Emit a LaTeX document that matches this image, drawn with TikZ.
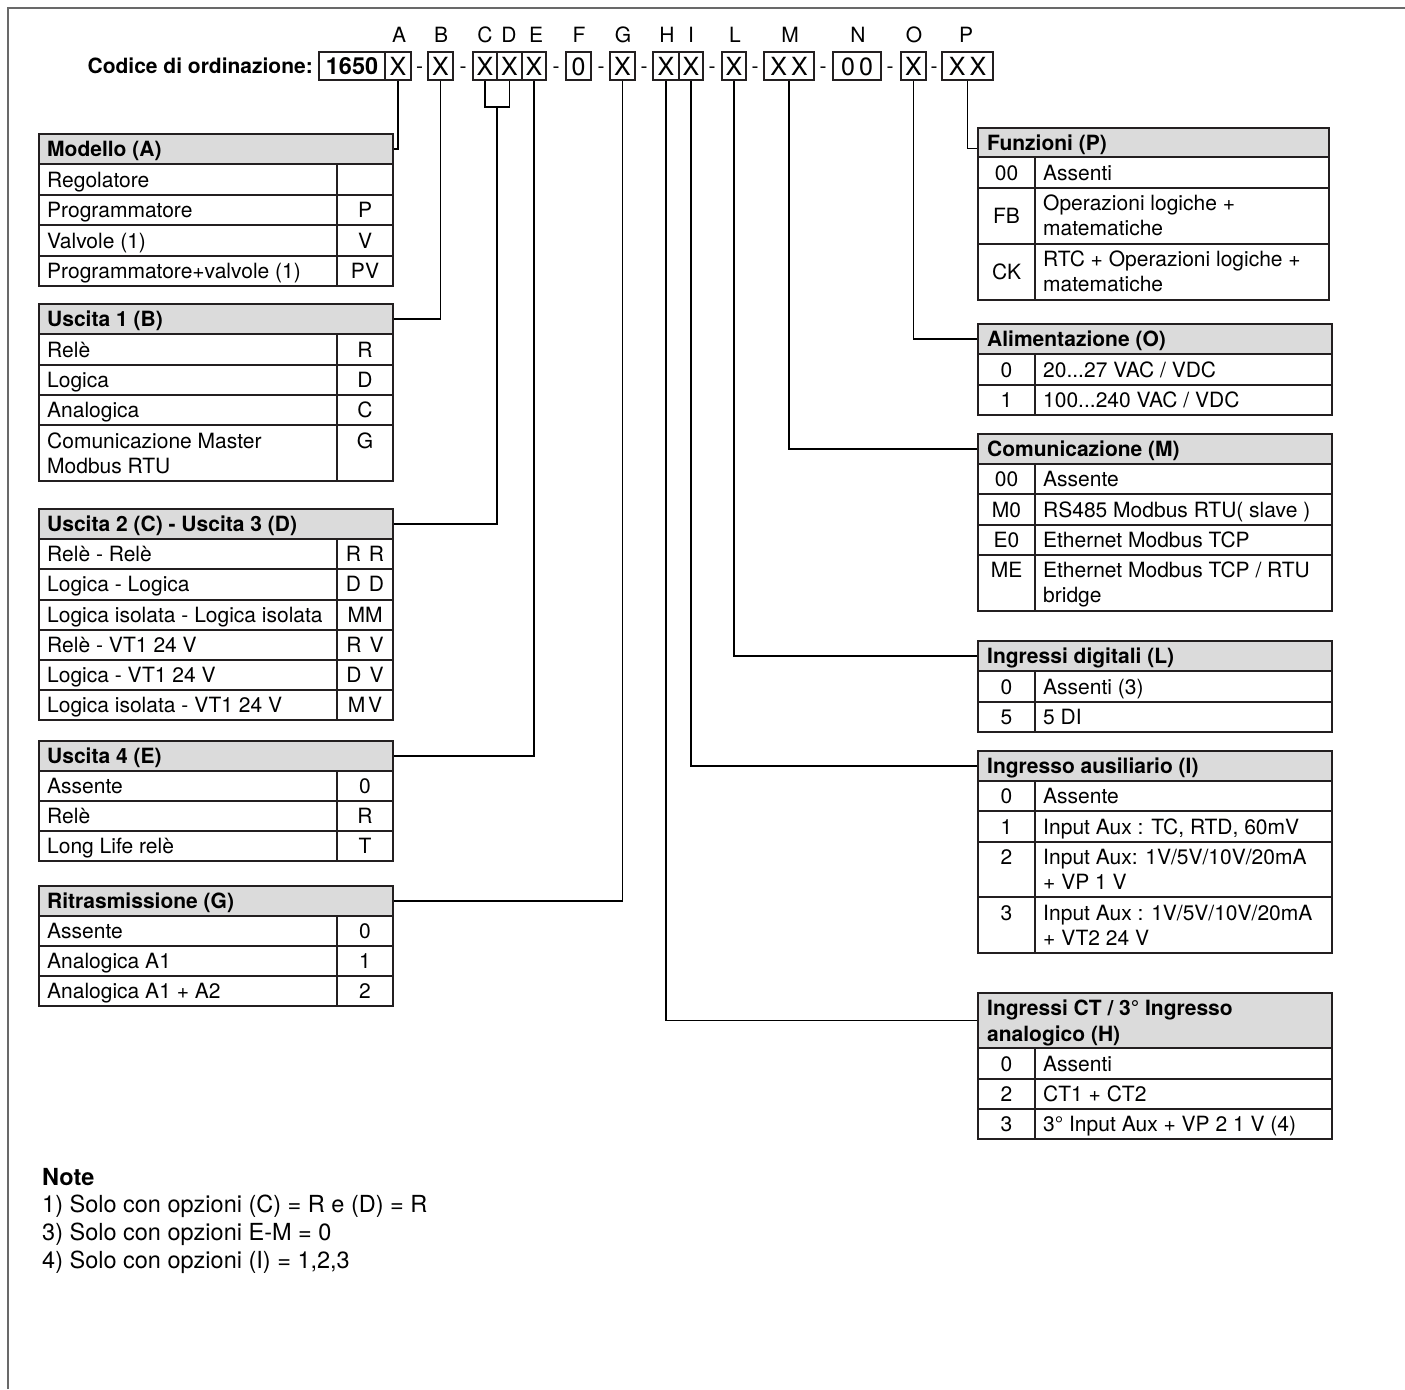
\documentclass[tikz,border=0pt]{standalone}
\usepackage{fontspec}
\setmainfont{TeX Gyre Heros}
\usetikzlibrary{fit}
\definecolor{hdrgray}{RGB}{219,219,219}
\definecolor{linec}{RGB}{35,31,32}
\definecolor{framec}{RGB}{105,105,105}
\newcommand\fbody{\fontsize{21}{25}\selectfont}
\newcommand\fnote{\fontsize{23.5}{28}\selectfont}
\newcommand\flet{\fontsize{21}{25}\selectfont}
\newcommand\fcode{\fontsize{25}{29}\selectfont}
% left-table row: name, baseline y, text, code
\newcommand\lrow[4]{\node[txt] (#1t) at (47,#2) {#3};\node[ctxt] (#1c) at (365,#2) {#4};}
% right-table row: name, baseline y, code, text
\newcommand\rrow[4]{\node[ctxt] (#1c) at (1006.5,#2) {#3};\node[txt] (#1t) at (1043,#2) {#4};}
% table body: x1, xdiv, x2, ytop, ybottom, inner lines
\newcommand\tbody[6]{\draw[cellline] (#1,#4) rectangle (#3,#5);\draw[cellline] (#2,#4) -- (#2,#5);\foreach \yy in {#6}{\draw[cellline] (#1,\yy) -- (#3,\yy);}}
\begin{document}
\begin{tikzpicture}[x=1pt,y=-1pt,
  hdrbox/.style={draw=linec, fill=hdrgray, line width=1.2pt, inner sep=0pt},
  cellline/.style={draw=linec, line width=1.2pt},
  txt/.style={anchor=base west, inner sep=0pt, font=\fbody},
  htxt/.style={anchor=base west, inner sep=0pt, font=\fbody\bfseries},
  ctxt/.style={anchor=base, inner sep=0pt, font=\fbody},
  letter/.style={anchor=base, inner sep=0pt, font=\flet},
  dashtxt/.style={anchor=base, inner sep=0pt, font=\fbody},
  codebox/.style={draw=linec, line width=1.2pt, inner sep=0pt, minimum height=28pt, font=\fcode, text height=18pt, text depth=0pt},
  conn/.style={draw=black, line width=1.2pt},
  frame/.style={draw=framec, line width=1.4pt},
  notetxt/.style={anchor=base west, inner sep=0pt, font=\fnote}
]
\useasboundingbox (0,0) rectangle (1405,1389);
\draw[frame] (8,1389) -- (8,8) -- (1405,8);

% ---------- letters ----------
\node[letter] (lA) at (399,43) {A};
\node[letter] (lB) at (441,43) {B};
\node[letter] (lC) at (485,43) {C};
\node[letter] (lD) at (509,43) {D};
\node[letter] (lE) at (536,43) {E};
\node[letter] (lF) at (579,43) {F};
\node[letter] (lG) at (623,43) {G};
\node[letter] (lH) at (667,43) {H};
\node[letter] (lI) at (691,43) {I};
\node[letter] (lL) at (735,43) {L};
\node[letter] (lM) at (790,43) {M};
\node[letter] (lN) at (858,43) {N};
\node[letter] (lO) at (914,43) {O};
\node[letter] (lP) at (966,43) {P};

% ---------- code ----------
\node[anchor=base east, inner sep=0pt, font=\fbody\bfseries] (title) at (313,74) {Codice di ordinazione:};
\node[codebox, minimum width=66pt, font=\fontsize{23.5}{28}\selectfont\bfseries, text height=17pt] (b1650) at (352,66) {1650};
\node[codebox, minimum width=26pt] (bA) at (398,66) {X};
\node[dashtxt] (d1) at (419.5,74) {-};
\node[codebox, minimum width=25pt] (bB) at (440.5,66) {X};
\node[dashtxt] (d2) at (463,74) {-};
\node[codebox, minimum width=24pt] (bC) at (485,66) {X};
\node[codebox, minimum width=25pt] (bD) at (509.5,66) {X};
\node[codebox, minimum width=24pt] (bE) at (534,66) {X};
\node[dashtxt] (d3) at (556,74) {-};
\node[codebox, minimum width=25pt] (bF) at (578.5,66) {0};
\node[dashtxt] (d4) at (601,74) {-};
\node[codebox, minimum width=25pt] (bG) at (622.5,66) {X};
\node[dashtxt] (d5) at (644,74) {-};
\node[codebox, minimum width=26pt] (bH) at (666,66) {X};
\node[codebox, minimum width=24pt] (bI) at (691,66) {X};
\node[dashtxt] (d6) at (712,74) {-};
\node[codebox, minimum width=24pt] (bL) at (734,66) {X};
\node[dashtxt] (d7) at (755,74) {-};
\node[codebox, minimum width=50pt] (bM) at (789,66) {X\kern4pt X};
\node[dashtxt] (d8) at (823,74) {-};
\node[codebox, minimum width=48pt] (bN) at (857,66) {0\kern4pt 0};
\node[dashtxt] (d9) at (890,74) {-};
\node[codebox, minimum width=25pt] (bO) at (913.5,66) {X};
\node[dashtxt] (d10) at (934,74) {-};
\node[codebox, minimum width=51pt] (bP) at (967.5,66) {X\kern4pt X};

% ---------- left tables ----------
% Modello (A)
\node[hdrbox, fit={(39,134) (393,164)}] (hA) {};
\node[htxt] (thA) at (47,156) {Modello (A)};
\tbody{39}{337}{393}{164}{286}{195,225,256}
\node[txt] (rA1t) at (47,187) {Regolatore};
\lrow{rA2}{217}{Programmatore}{P}
\lrow{rA3}{248}{Valvole (1)}{V}
\lrow{rA4}{278}{Programmatore+valvole (1)}{PV}

% Uscita 1 (B)
\node[hdrbox, fit={(39,304) (393,334)}] (hB) {};
\node[htxt] (thB) at (47,326) {Uscita 1 (B)};
\tbody{39}{337}{393}{334}{481}{365,395,425}
\lrow{rB1}{357}{Relè}{R}
\lrow{rB2}{387}{Logica}{D}
\lrow{rB3}{417}{Analogica}{C}
\lrow{rB4}{448}{Comunicazione Master}{G}
\node[txt] (rB5t) at (47,473) {Modbus RTU};

% Uscita 2 (C) - Uscita 3 (D)
\node[hdrbox, fit={(39,509) (393,539)}] (hCD) {};
\node[htxt] (thCD) at (47,531) {Uscita 2 (C) - Uscita 3 (D)};
\tbody{39}{337}{393}{539}{720}{569,600,630,660,690}
\lrow{rC1}{561}{Relè - Relè}{R\kern8pt R}
\lrow{rC2}{591}{Logica - Logica}{D\kern8pt D}
\lrow{rC3}{622}{Logica isolata - Logica isolata}{MM}
\lrow{rC4}{652}{Relè - VT1 24 V}{R\kern8pt V}
\lrow{rC5}{682}{Logica - VT1 24 V}{D\kern8pt V}
\lrow{rC6}{712}{Logica isolata - VT1 24 V}{M\kern3pt V}

% Uscita 4 (E)
\node[hdrbox, fit={(39,741) (393,771)}] (hE) {};
\node[htxt] (thE) at (47,763) {Uscita 4 (E)};
\tbody{39}{337}{393}{771}{861}{801,831}
\lrow{rE1}{793}{Assente}{0}
\lrow{rE2}{823}{Relè}{R}
\lrow{rE3}{853}{Long Life relè}{T}

% Ritrasmissione (G)
\node[hdrbox, fit={(39,886) (393,916)}] (hG) {};
\node[htxt] (thG) at (47,908) {Ritrasmissione (G)};
\tbody{39}{337}{393}{916}{1006}{946,976}
\lrow{rG1}{938}{Assente}{0}
\lrow{rG2}{968}{Analogica A1}{1}
\lrow{rG3}{998}{Analogica A1 + A2}{2}

% ---------- right tables ----------
% Funzioni (P)
\node[hdrbox, fit={(978,128) (1329,157)}] (hP) {};
\node[htxt] (thP) at (987,150) {Funzioni (P)};
\tbody{978}{1035}{1329}{157}{300}{188,244}
\rrow{rP1}{180}{00}{Assenti}
\node[ctxt] (rP2c) at (1006.5,223) {FB};
\node[txt] (rP2t) at (1043,210) {Operazioni logiche +};
\node[txt] (rP2u) at (1043,235) {matematiche};
\node[ctxt] (rP3c) at (1006.5,279) {CK};
\node[txt] (rP3t) at (1043,266) {RTC + Operazioni logiche +};
\node[txt] (rP3u) at (1043,291) {matematiche};

% Alimentazione (O)
\node[hdrbox, fit={(978,324) (1332,354)}] (hO) {};
\node[htxt] (thO) at (987,346) {Alimentazione (O)};
\tbody{978}{1035}{1332}{354}{415}{385}
\rrow{rO1}{377}{0}{20...27 VAC / VDC}
\rrow{rO2}{407}{1}{100...240 VAC / VDC}

% Comunicazione (M)
\node[hdrbox, fit={(978,434) (1332,464)}] (hM) {};
\node[htxt] (thM) at (987,456) {Comunicazione (M)};
\tbody{978}{1035}{1332}{464}{611}{494,525,555}
\rrow{rM1}{486}{00}{Assente}
\rrow{rM2}{517}{M0}{RS485 Modbus RTU( slave )}
\rrow{rM3}{547}{E0}{Ethernet Modbus TCP}
\rrow{rM4}{577}{ME}{Ethernet Modbus TCP / RTU}
\node[txt] (rM5t) at (1043,602) {bridge};

% Ingressi digitali (L)
\node[hdrbox, fit={(978,641) (1332,671)}] (hL) {};
\node[htxt] (thL) at (987,663) {Ingressi digitali (L)};
\tbody{978}{1035}{1332}{671}{732}{702}
\rrow{rL1}{694}{0}{Assenti (3)}
\rrow{rL2}{724}{5}{5 DI}

% Ingresso ausiliario (I)
\node[hdrbox, fit={(978,751) (1332,781)}] (hI) {};
\node[htxt] (thI) at (987,773) {Ingresso ausiliario (I)};
\tbody{978}{1035}{1332}{781}{953}{811,842,897}
\rrow{rI1}{803}{0}{Assente}
\rrow{rI2}{834}{1}{Input Aux : TC, RTD, 60mV}
\rrow{rI3}{864}{2}{Input Aux: 1V/5V/10V/20mA}
\node[txt] (rI4t) at (1043,889) {+ VP 1 V};
\rrow{rI5}{920}{3}{Input Aux : 1V/5V/10V/20mA}
\node[txt] (rI6t) at (1043,945) {+ VT2 24 V};

% Ingressi CT / 3° Ingresso analogico (H)
\node[hdrbox, fit={(978,993) (1332,1048)}] (hH) {};
\node[htxt] (thH) at (987,1015) {Ingressi CT / 3° Ingresso};
\node[htxt] (thH2) at (987,1041) {analogico (H)};
\tbody{978}{1035}{1332}{1048}{1139}{1079,1109}
\rrow{rH1}{1071}{0}{Assenti}
\rrow{rH2}{1101}{2}{CT1 + CT2}
\rrow{rH3}{1131}{3}{3° Input Aux + VP 2 1 V (4)}

% ---------- connectors ----------
\draw[conn] (bA.south) |- (hA.east);
\draw[conn] (bB.south) |- (hB.east);
\coordinate (cd) at (497,107);
\draw[conn] (bC.south) |- (cd) -| (bD.south);
\draw[conn] (cd) |- (hCD.east);
\draw[conn] (bE.south) |- (hE.east);
\draw[conn] (bG.south) |- (hG.east);
\draw[conn] (bH.south) |- (hH.west);
\draw[conn] (bI.south) |- (hI.west);
\draw[conn] (bL.south) |- (hL.west);
\draw[conn] (bM.south) |- (hM.west);
\draw[conn] (bO.south) |- (hO.west);
\draw[conn] (bP.south) |- ([yshift=-6pt]hP.west);

% ---------- notes ----------
\node[notetxt, font=\fnote\bfseries] (nT) at (42,1185) {Note};
\node[notetxt] (n1) at (42,1212) {1) Solo con opzioni (C) = R e (D) = R};
\node[notetxt] (n3) at (42,1240) {3) Solo con opzioni E-M = 0};
\node[notetxt] (n4) at (42,1268) {4) Solo con opzioni (I) = 1,2,3};
\end{tikzpicture}
\end{document}
